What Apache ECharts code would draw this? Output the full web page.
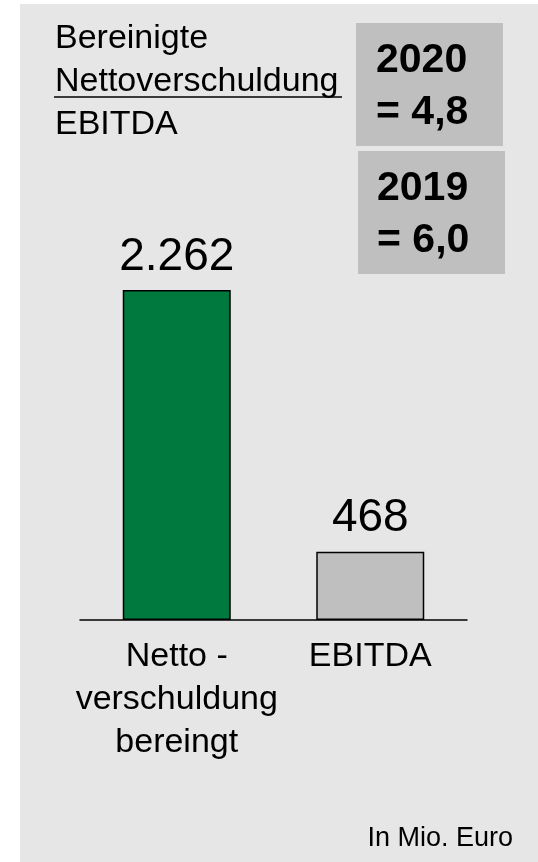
<!DOCTYPE html>
<html>
<head>
<meta charset="utf-8">
<script src="https://cdn.jsdelivr.net/npm/echarts@6/dist/echarts.min.js"></script>
<style>
  html, body { margin: 0; padding: 0; background: #ffffff; }
  #chart { width: 538px; height: 862px; }
</style>
</head>
<body>
<div id="chart"></div>
<script>
// data
const categories = ["Netto -\nverschuldung\nbereingt", "EBITDA"];
const values = [2262, 468];
const ratioYears = ["2020", "2019"];
const ratioValues = ["4,8", "6,0"];
const titleLines = ["Bereinigte", "Nettoverschuldung", "EBITDA"];
const unitNote = "In Mio. Euro";

const barColors = ["#00793f", "#bfbfbf"];
const font = "'Liberation Sans', Arial, sans-serif";

// German number format, 2262 -> 2.262
const fmt = v => String(v).replace(/\B(?=(\d{3})+(?!\d))/g, ".");

const chart = echarts.init(document.getElementById("chart"));

const ratioBoxes = ratioYears.map((year, i) => ({
  type: "group",
  children: [
    {
      type: "rect",
      shape: { x: 356 + i * 2, y: 23 + i * 128, width: 147, height: 123 },
      style: { fill: "#bfbfbf" }
    },
    {
      type: "text",
      x: 376 + i,
      y: 34 + i * 128,
      style: {
        text: year + "\n= " + ratioValues[i],
        fontFamily: font,
        fontWeight: "bold",
        fontSize: 41,
        lineHeight: 52.5,
        fill: "#000",
        verticalAlign: "top"
      }
    }
  ]
}));

chart.setOption({
  animation: false,
  backgroundColor: "#ffffff",
  graphic: [
    {
      type: "rect",
      z: -10,
      shape: { x: 20, y: 4, width: 518, height: 858 },
      style: { fill: "#e6e6e6" }
    },
    {
      type: "text",
      x: 55,
      y: 17,
      style: {
        text: titleLines.join("\n"),
        fontFamily: font,
        fontSize: 34,
        lineHeight: 43,
        fill: "#000",
        verticalAlign: "top"
      }
    },
    {
      type: "line",
      shape: { x1: 54, y1: 97, x2: 342, y2: 97 },
      style: { stroke: "#000", lineWidth: 1.5 }
    },
    ...ratioBoxes,
    {
      type: "text",
      x: 513,
      y: 839,
      style: {
        text: unitNote,
        fontFamily: font,
        fontSize: 27,
        fill: "#000",
        align: "right",
        verticalAlign: "middle"
      }
    }
  ],
  grid: { left: 80, right: 71, top: 182.3, bottom: 242 },
  xAxis: {
    type: "category",
    data: categories,
    axisTick: { show: false },
    axisLine: { lineStyle: { color: "#000", width: 1.5 } },
    axisLabel: {
      interval: 0,
      margin: 15,
      fontFamily: font,
      fontSize: 34,
      lineHeight: 43,
      color: "#000"
    }
  },
  yAxis: {
    type: "value",
    min: 0,
    max: 3000,
    show: false
  },
  series: [
    {
      type: "bar",
      barWidth: 108,
      data: values.map((v, i) => ({
        value: v,
        itemStyle: { color: barColors[i] }
      })),
      itemStyle: { borderColor: "#000", borderWidth: 1.5 },
      label: {
        show: true,
        position: "top",
        distance: 10,
        fontFamily: font,
        fontSize: 46,
        color: "#000",
        formatter: p => fmt(p.value)
      }
    }
  ]
});
</script>
</body>
</html>
